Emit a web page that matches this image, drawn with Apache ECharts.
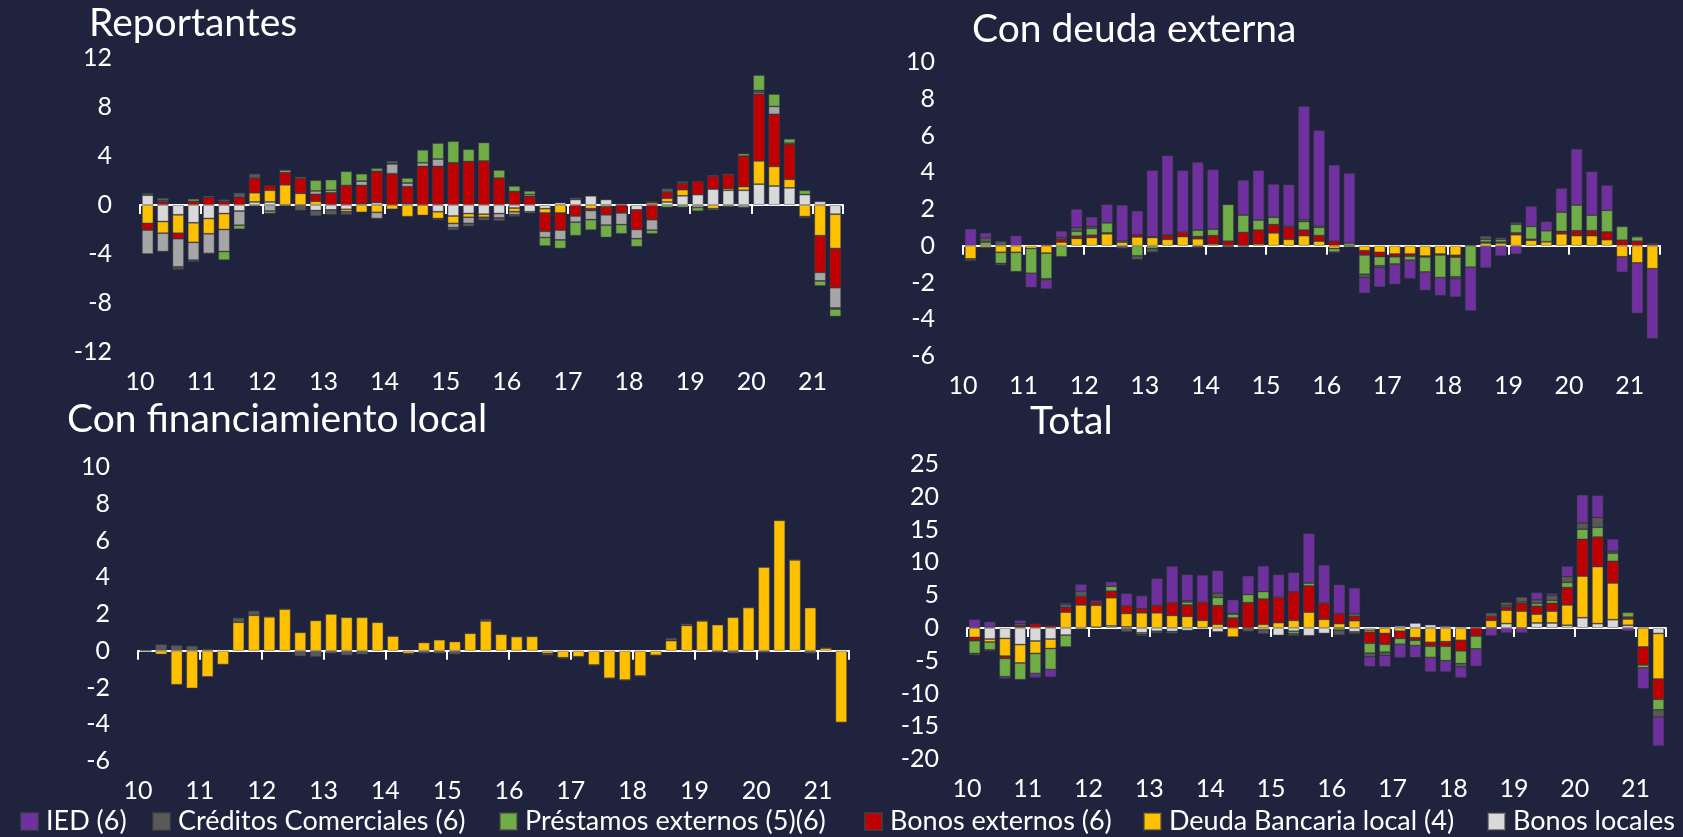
<!DOCTYPE html>
<html>
<head>
<meta charset="utf-8">
<script src="https://cdn.jsdelivr.net/npm/echarts@6/dist/echarts.min.js"></script>
<style>
  html, body { margin: 0; padding: 0; background: #1f233e; }
  #chart { width: 1683px; height: 837px; }
</style>
</head>
<body>
<div id="chart"></div>
<script>
// etiquetas de años (eje x) y trimestres 2010T1 - 2021T2
var years = ['10', '11', '12', '13', '14', '15', '16', '17', '18', '19', '20', '21'];
var quarters = [];
years.forEach(function (y) {
  ['T1', 'T2', 'T3', 'T4'].forEach(function (q) { quarters.push('20' + y + q); });
});
quarters = quarters.slice(0, 46);

var names = {
  ied: 'IED (6)',
  cc: 'Créditos Comerciales (6)',
  pe: 'Préstamos externos (5)(6)',
  be: 'Bonos externos (6)',
  dbl: 'Deuda Bancaria local (4)',
  bl: 'Bonos locales',
  otros: 'Otros'
};
var colors = {
  ied: '#7030a0', cc: '#595959', pe: '#70ad47', be: '#c00000',
  dbl: '#ffc000', bl: '#d9d9d9', otros: '#a6a6a6'
};

// ---- Reportantes ----
var rep_bl = [0.8, -1.35, -0.8, -1.45, -1.1, -0.7, -0.5, 0.25, 0.25, 0, 0, -0.45, -0.4, -0.35, 0.1, 0.2, 0, 0.1, 0, -0.55, -0.9, -0.7, -0.75, -0.7, -0.25, -0.55, -0.3, 0.2, 0.45, 0.75, 0.45, 0, -0.4, 0.05, 0.25, 0.75, 0.85, 1.3, 1.2, 1.2, 1.7, 1.55, 1.4, 0.85, 0.3, -0.75];
var rep_dbl = [-1.5, -0.95, -1.5, -1.6, -1.25, -1.3, 0, 0.75, 0.95, 1.65, 0.95, 0.3, 0, -0.2, -0.6, -0.6, -0.35, -0.95, -0.85, -0.55, -0.6, -0.3, -0.25, 0, -0.3, -0.1, -0.35, -0.65, 0, -0.3, -0.15, 0, 0, 0.15, 0.3, 0.5, 0, -0.3, 0.15, 0.3, 1.9, 1.6, 0.7, -0.95, -2.5, -2.8];
var rep_be = [-0.55, 0.25, -0.45, 0.3, 0.62, 0.3, 0.62, 1.2, 0.4, 1.0, 1.25, 0.57, 1.0, 1.6, 1.5, 2.55, 2.55, 1.4, 3.15, 3.15, 3.45, 3.55, 3.6, 2.2, 1.1, 0.7, -1.5, -1.4, -0.9, -0.15, -0.65, -0.65, -1.6, -1.2, 0.5, 0.5, 1.1, 1.05, 1.15, 2.5, 5.45, 4.25, 2.85, 0, -3.0, -3.2];
var rep_otros = [-1.95, -1.5, -2.3, -1.45, -1.6, -1.8, -1.15, 0, -0.5, 0.2, 0, 0.28, 0.2, 0, 0.35, -0.5, 0.8, 0.3, 0.3, 0.6, -0.35, -0.5, 0, -0.35, -0.25, 0.15, -0.5, -0.8, -0.5, -0.75, -0.85, -0.95, -0.75, -0.85, 0, 0.1, -0.2, -0.1, 0, -0.2, 0.15, 0.65, 0.1, 0, -0.7, -1.65];
var rep_cc = [0.05, 0.15, -0.2, -0.15, 0, 0.15, 0.38, 0.35, 0, 0, -0.45, -0.45, -0.4, -0.25, 0, 0, 0.08, 0, 0, -0.1, -0.2, -0.25, -0.25, -0.25, -0.15, 0, 0, 0, 0.15, 0, 0, 0, 0, 0.1, 0.3, 0.1, 0, 0.05, 0, 0, 0.15, 0, 0, -0.1, 0, -0.1];
var rep_pe = [0.1, 0.15, 0, 0.2, 0.1, -0.7, -0.33, -0.1, -0.2, -0.1, 0.1, 0.87, 0.87, 1.15, 0.6, 0.25, 0.15, 0.4, 1.05, 1.3, 1.75, 1.0, 1.5, 0.65, 0.45, 0.3, -0.7, -0.7, -1.1, -0.85, -1.0, -0.75, -0.65, -0.3, -0.2, -0.2, -0.3, 0, -0.15, 0.2, 1.25, 1.0, 0.35, 0.35, -0.4, -0.6];

// ---- Con deuda externa ----
var ext_dbl = [-0.72, -0.1, -0.36, -0.36, -0.15, -0.4, 0.2, 0.4, 0.45, 0.65, 0.2, 0.48, 0.45, 0.35, 0.5, 0.38, 0.1, 0, 0, 0.1, 0.7, 0.35, 0.55, 0.25, -0.15, 0, -0.27, -0.36, -0.45, -0.45, -0.56, -0.45, -0.52, 0, 0.15, 0.15, 0.6, 0.3, 0.22, 0.65, 0.55, 0.55, 0.33, -0.6, -0.93, -1.25];
var ext_be = [0, 0, 0, 0, 0, 0.07, 0.15, 0.12, 0.12, 0.05, 0, 0.12, 0.05, 0.22, 0.25, 0.12, 0.45, 0.25, 0.72, 0.75, 0.45, 0.68, 0.3, 0.3, 0.25, -0.05, -0.23, -0.23, -0.15, -0.12, -0.05, -0.05, -0.1, 0, 0.05, 0.05, 0.1, 0.05, 0, 0.13, 0.27, 0.27, 0.42, 0.3, 0.25, 0.08];
var ext_pe = [0, 0.2, -0.6, -1.05, -1.35, -1.4, -0.6, 0.27, 0.38, 0.55, 0.07, -0.55, -0.15, 0.04, 0, 0.35, 0.35, 2.0, 0.95, 0.55, 0.4, 0.05, 0.47, 0.45, -0.2, 0.15, -1.05, -0.5, -0.4, -0.22, -0.82, -1.23, -1.07, -1.17, 0.15, 0.15, 0.47, 0.7, 0.6, 1.05, 1.4, 0.85, 1.18, 0.75, 0.24, 0];
var ext_cc = [-0.1, 0.23, 0.25, 0, 0, -0.05, 0.1, 0.2, 0.1, 0, -0.15, -0.2, -0.2, 0, 0, -0.1, 0, -0.05, -0.05, 0, 0, 0, 0.12, 0.08, 0, 0, -0.18, -0.1, 0, 0, 0, 0, -0.1, 0, 0.18, 0.1, 0.1, 0, 0, 0, 0, 0, 0, 0, 0, 0.05];
var ext_ied = [0.92, 0.27, -0.1, 0.55, -0.77, -0.5, 0.35, 1.0, 0.52, 1.0, 1.95, 1.3, 3.6, 4.3, 3.35, 3.7, 3.25, 0, 1.9, 2.7, 1.8, 2.25, 6.15, 5.2, 4.15, 3.8, -0.85, -1.05, -1.1, -1.0, -1.0, -0.98, -1.0, -2.37, -1.2, -0.55, -0.45, 1.1, 0.5, 1.3, 3.05, 2.37, 1.36, -0.84, -2.75, -3.8];

// ---- Con financiamiento local ----
var loc_dbl = [0, -0.2, -1.85, -2.05, -1.42, -0.75, 1.55, 1.93, 1.85, 2.27, 1.0, 1.65, 2.0, 1.82, 1.82, 1.55, 0.8, -0.15, 0.45, 0.6, 0.5, 0.95, 1.62, 0.9, 0.77, 0.78, -0.15, -0.38, -0.33, -0.78, -1.5, -1.6, -1.38, -0.25, 0.55, 1.38, 1.62, 1.42, 1.82, 2.35, 4.55, 7.1, 4.95, 2.35, 0.15, -3.9];
var loc_cc = [0, 0.35, 0.3, 0.27, 0.1, 0, 0.25, 0.25, 0, 0, -0.3, -0.33, -0.15, -0.25, -0.2, 0, 0, -0.05, -0.15, -0.15, -0.2, 0, 0.1, 0, 0, 0, -0.1, -0.05, 0, 0, 0, 0, 0, 0, 0.15, 0.1, 0.05, -0.1, -0.15, 0, -0.1, 0, 0, -0.15, 0, 0];

// ---- Total ----
var tot_bl = [0, -1.7, -1.6, -2.55, -2.0, -1.7, -1.1, -0.2, 0.1, 0.3, 0.15, -0.75, -0.5, -0.55, -0.4, 0, -0.6, 0, 0, -0.3, -1.15, -0.5, -1.2, -0.85, 0, -0.6, -0.35, 0, 0.3, 0.75, 0.5, 0.25, 0, 0, 0, 0.65, 0, 0.75, 0.75, 0.4, 1.55, 0.65, 1.25, 0.4, 0, -0.85];
var tot_dbl = [-1.45, -0.45, -2.7, -2.8, -1.9, -1.45, 2.4, 3.5, 3.35, 4.3, 2.05, 2.3, 2.3, 1.9, 1.75, 1.15, 0.55, -1.4, 0, 0.55, 0.8, 1.15, 2.4, 1.3, 0.65, 1.1, -0.3, -0.85, -0.5, -1.5, -2.2, -2.1, -1.9, 0, 1.15, 2.05, 2.55, 1.35, 1.8, 3.1, 6.35, 8.7, 5.6, 0.95, -2.9, -6.95];
var tot_be = [-0.5, 0.1, -0.35, 0.3, 0.65, 0.35, 0.7, 1.3, 0.5, 1.0, 1.2, 0.65, 1.15, 2.0, 1.75, 2.8, 2.85, 1.5, 3.85, 3.85, 3.9, 4.35, 4.0, 2.5, 1.5, 0.7, -1.7, -1.65, -1.1, -0.4, -0.6, -0.7, -1.6, -1.25, 0.6, 0.5, 1.2, 1.2, 1.2, 2.65, 5.6, 4.5, 3.3, 0.3, -2.75, -3.1];
var tot_pe = [-1.95, -1.2, -2.8, -2.55, -3.05, -3.2, -1.8, 0, 0, 0.75, 0, -0.25, 0, 0, 0.45, 0, 1.25, 0.6, 1.25, 1.15, 0, -0.4, 0.45, 0, -0.35, 0.3, -1.5, -1.2, -0.9, -0.8, -1.7, -2.2, -1.95, -1.95, 0, 0.2, 0.2, 0.45, 0.45, 0.8, 1.55, 1.5, 1.25, 0.7, -0.45, -1.6];
var tot_cc = [-0.25, -0.15, 0, 0.35, 0, 0, 0.5, 0.8, 0, 0, -0.6, -0.2, -0.3, -0.3, 0.2, 0, 0.65, 0.1, -0.55, -0.6, 0, -0.3, 0, 0, -0.75, -0.3, -0.55, -0.5, 0, 0, 0, 0, -0.5, 0, 0.55, 0.5, 0.75, 0.55, 0.75, 0.9, 0.95, 1.5, 0.3, 0, 0, -1.1];
var tot_ied = [1.3, 0.85, -0.3, 0.5, -0.65, -1.15, 0.2, 1.05, 0.25, 0.7, 1.85, 1.95, 4.1, 5.5, 4.0, 4.1, 3.45, 2.1, 2.85, 3.9, 3.45, 2.95, 7.55, 5.8, 4.45, 4.0, -1.5, -1.7, -2.05, -1.8, -2.2, -1.7, -1.65, -2.65, -1.2, -0.75, -0.75, 1.1, 0.3, 1.55, 4.3, 3.35, 1.85, -0.45, -3.15, -4.4];

var panels = [
  { title: 'Reportantes', titleLeft: 89, titleTop: 4, left: 140, top: 58, width: 703, height: 294,
    min: -12, max: 12, interval: 4,
    series: [['bl', rep_bl], ['dbl', rep_dbl], ['be', rep_be], ['otros', rep_otros], ['cc', rep_cc], ['pe', rep_pe]] },
  { title: 'Con deuda externa', titleLeft: 972, titleTop: 10, left: 963, top: 62, width: 697, height: 294,
    min: -6, max: 10, interval: 2,
    series: [['dbl', ext_dbl], ['be', ext_be], ['pe', ext_pe], ['cc', ext_cc], ['ied', ext_ied]] },
  { title: 'Con financiamiento local', titleLeft: 67, titleTop: 400, left: 138, top: 467, width: 711, height: 294,
    min: -6, max: 10, interval: 2,
    series: [['dbl', loc_dbl], ['cc', loc_cc]] },
  { title: 'Total', titleLeft: 1030, titleTop: 402, left: 967, top: 464, width: 699, height: 295,
    min: -20, max: 25, interval: 5,
    series: [['bl', tot_bl], ['dbl', tot_dbl], ['be', tot_be], ['pe', tot_pe], ['cc', tot_cc], ['ied', tot_ied]] }
];

var font = 'Lato, "Open Sans", sans-serif';
var option = {
  backgroundColor: '#1f233e',
  animation: false,
  textStyle: { fontFamily: font },
  title: [], grid: [], xAxis: [], yAxis: [], series: [],
  legend: []
};

panels.forEach(function (p, i) {
  option.title.push({
    text: p.title, left: p.titleLeft, top: p.titleTop, padding: 0,
    textStyle: { color: '#ffffff', fontSize: 39, fontWeight: 'normal', fontFamily: font }
  });
  option.grid.push({ left: p.left, top: p.top, width: p.width, height: p.height });
  // eje de categorías: línea blanca en cero con marcas anuales
  option.xAxis.push({
    type: 'category', gridIndex: i, data: quarters, position: 'top',
    axisLine: { onZero: true, lineStyle: { color: '#ffffff', width: 2 } },
    axisTick: { show: true, inside: true, interval: 3, length: 9, lineStyle: { color: '#ffffff', width: 2 } },
    axisLabel: { show: false },
    splitLine: { show: false }
  });
  // eje auxiliar para las etiquetas de año, abajo
  option.xAxis.push({
    type: 'value', gridIndex: i, min: 0, max: 46, interval: 4, position: 'bottom',
    axisLine: { show: false, onZero: false },
    axisTick: { show: false },
    splitLine: { show: false },
    axisLabel: {
      color: '#ffffff', fontSize: 25, margin: 17, fontFamily: font,
      formatter: function (v) { return years[v / 4] || ''; }
    }
  });
  option.yAxis.push({
    type: 'value', gridIndex: i, min: p.min, max: p.max, interval: p.interval,
    axisLine: { show: false }, axisTick: { show: false }, splitLine: { show: false },
    axisLabel: { color: '#ffffff', fontSize: 25, margin: 28, fontFamily: font }
  });
  p.series.forEach(function (s) {
    option.series.push({
      type: 'bar', name: names[s[0]], xAxisIndex: i * 2, yAxisIndex: i,
      stack: 'p' + i, data: s[1], barCategoryGap: '25%',
      itemStyle: { color: colors[s[0]], borderColor: 'rgba(70,70,70,0.6)', borderWidth: 0.8 }
    });
  });
});

var legendItems = [['ied', 20], ['cc', 152], ['pe', 499], ['be', 864], ['dbl', 1143], ['bl', 1487]];
legendItems.forEach(function (l) {
  option.legend.push({
    left: l[1], top: 808, padding: 0, itemWidth: 17, itemHeight: 17,
    data: [{ name: names[l[0]], icon: 'rect' }],
    textStyle: { color: '#ffffff', fontSize: 27, fontFamily: font, padding: [0, 0, 0, 3] }
  });
});

var chart = echarts.init(document.getElementById('chart'));
chart.setOption(option);
</script>
</body>
</html>
